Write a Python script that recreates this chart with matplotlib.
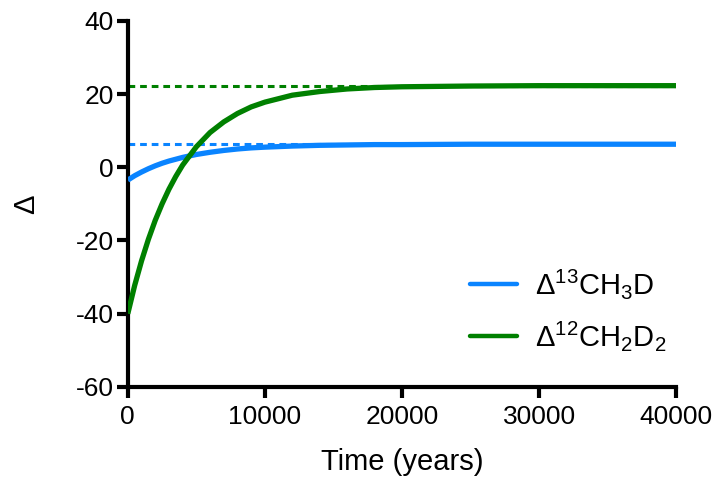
import matplotlib
matplotlib.use("Agg")
import matplotlib.pyplot as plt

plt.rcParams['font.family'] = ['Liberation Sans', 'DejaVu Sans']
plt.rcParams['mathtext.fontset'] = 'custom'
plt.rcParams['mathtext.rm'] = 'Liberation Sans'
plt.rcParams['mathtext.default'] = 'regular'

# Time axis (years)
time = [0, 500, 1000, 1500, 2000, 2500, 3000, 3500, 4000, 5000, 6000, 7000,
        8000, 9000, 10000, 12000, 14000, 16000, 18000, 20000, 25000, 30000, 40000]

# Clumped isotope anomalies
d13ch3d = [-3.5, -2.3, -1.3, -0.4, 0.4, 1.1, 1.7, 2.2, 2.7, 3.5, 4.1, 4.6,
           5.0, 5.3, 5.5, 5.8, 6.0, 6.1, 6.2, 6.2, 6.3, 6.3, 6.3]
d12ch2d2 = [-40.0, -32.3, -25.6, -19.7, -14.5, -10.0, -6.0, -2.5, 0.6, 5.6, 9.5, 12.4,
            14.7, 16.5, 17.8, 19.7, 20.7, 21.4, 21.8, 22.0, 22.2, 22.3, 22.3]

# Equilibrium values
eq_13ch3d = 6.3
eq_12ch2d2 = 22.3

x_ticks = [0, 10000, 20000, 30000, 40000]
y_ticks = [-60, -40, -20, 0, 20, 40]

blue = '#0a84ff'
green = '#008000'

fig = plt.figure(figsize=(7.14, 4.86), dpi=100)
ax = fig.add_axes([0.179, 0.204, 0.768, 0.753])

ax.plot([time[0], time[-1]], [eq_13ch3d, eq_13ch3d], color=blue, lw=2.2,
        ls=(0, (2.2, 1.6)), zorder=2)
ax.plot([time[0], time[-1]], [eq_12ch2d2, eq_12ch2d2], color=green, lw=2.2,
        ls=(0, (2.2, 1.6)), zorder=2)
ax.plot(time, d13ch3d, color=blue, lw=3.8, solid_capstyle='butt', zorder=3,
        label=r'Δ$^{13}$CH$_3$D')
ax.plot(time, d12ch2d2, color=green, lw=3.8, solid_capstyle='butt', zorder=3,
        label=r'Δ$^{12}$CH$_2$D$_2$')

ax.set_xlim(0, 40000)
ax.set_ylim(-60, 40)
ax.set_xticks(x_ticks)
ax.set_yticks(y_ticks)
ax.set_xticklabels([str(v) for v in x_ticks])
ax.set_yticklabels([str(v) for v in y_ticks])

for side in ('top', 'right'):
    ax.spines[side].set_visible(False)
for side in ('left', 'bottom'):
    ax.spines[side].set_linewidth(3)
    ax.spines[side].set_capstyle('projecting')

ax.tick_params(axis='both', width=3, length=8, labelsize=19, direction='out')
ax.tick_params(axis='y', pad=2)
ax.tick_params(axis='x', pad=5)

ax.set_xlabel('Time (years)', fontsize=21, labelpad=14)
ax.set_ylabel('Δ', fontsize=21, labelpad=26)

leg = ax.legend(loc='lower right', bbox_to_anchor=(1.03, 0.02), frameon=False,
                fontsize=21, handlelength=1.6, handletextpad=0.62,
                labelspacing=0.64)
for line in leg.get_lines():
    line.set_linewidth(3.2)
    line.set_solid_capstyle('round')

fig.savefig('out.png', dpi=100)
